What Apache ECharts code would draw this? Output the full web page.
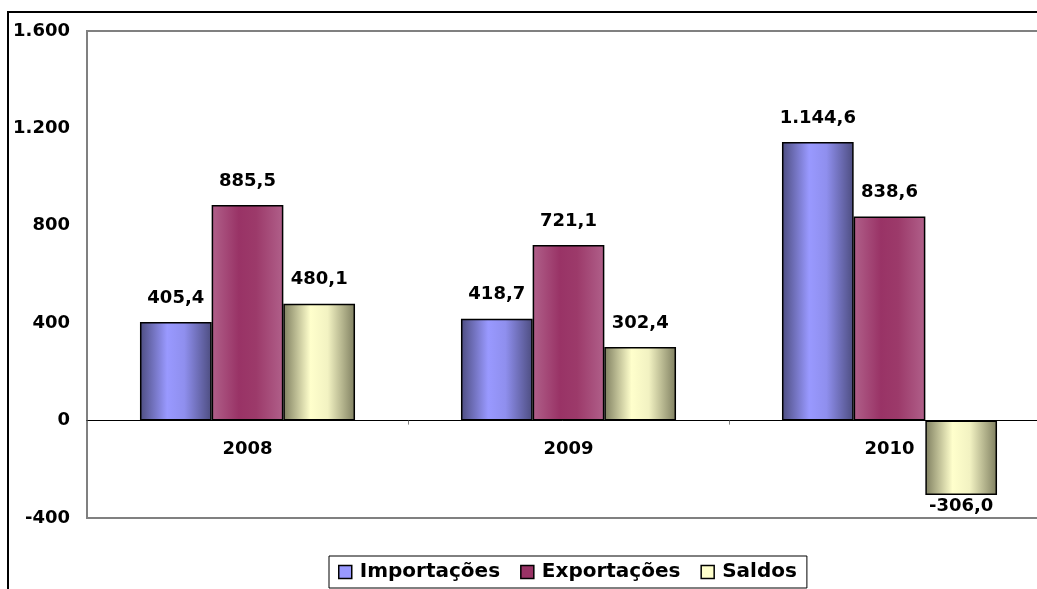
<!DOCTYPE html>
<html>
<head>
<meta charset="utf-8">
<script src="https://cdn.jsdelivr.net/npm/echarts@6/dist/echarts.min.js"></script>
<style>
  html, body { margin: 0; padding: 0; background: #fff; }
  #chart { width: 1037px; height: 589px; }
</style>
</head>
<body>
<div id="chart"></div>
<script>
var years = ['2008', '2009', '2010'];
var importacoes = [405.4, 418.7, 1144.6];
var exportacoes = [885.5, 721.1, 838.6];
var saldos = [480.1, 302.4, -306.0];
var yTicks = [-400, 0, 400, 800, 1200, 1600];

var font = '"DejaVu Sans", Arial, sans-serif';
var gridTop = 31, gridBottom = 71, chartH = 589;
var plotH = chartH - gridTop - gridBottom;
var yMin = yTicks[0], yMax = yTicks[yTicks.length - 1];
// move the category axis up to the zero line
var zeroOffset = -plotH * (0 - yMin) / (yMax - yMin);

// 1144.6 -> "1.144,6"
function fmt(v, dec) {
    var s = Math.abs(v).toFixed(dec);
    var parts = s.split('.');
    var intPart = parts[0].replace(/\B(?=(\d{3})+(?!\d))/g, '.');
    var out = (v < 0 ? '-' : '') + intPart;
    if (dec > 0) out += ',' + parts[1];
    return out;
}

function grad(c0, c1, c2, c3) {
    return new echarts.graphic.LinearGradient(0, 0, 1, 0, [
        { offset: 0, color: c0 },
        { offset: 0.38, color: c1 },
        { offset: 0.62, color: c2 },
        { offset: 1, color: c3 }
    ]);
}

var labelStyle = {
    show: true,
    position: 'top',
    distance: 15,
    fontFamily: font,
    fontWeight: 'bold',
    fontSize: 18,
    color: '#000',
    formatter: function (p) { return fmt(p.value, 1); }
};

function makeSeries(name, values, color) {
    return {
        name: name,
        type: 'bar',
        barGap: 0,
        barCategoryGap: '33%',
        itemStyle: { color: color, borderColor: '#000', borderWidth: 1.5 },
        label: labelStyle,
        data: values.map(function (v) {
            if (v < 0) {
                return { value: v, label: { position: 'bottom', distance: 2 } };
            }
            return v;
        })
    };
}

var chart = echarts.init(document.getElementById('chart'));
var option = {
    backgroundColor: '#fff',
    animation: false,
    graphic: [{
        type: 'rect',
        shape: { x: 8, y: 12, width: 1200, height: 800 },
        style: { fill: 'none', stroke: '#000', lineWidth: 2 },
        silent: true,
        z: 100
    }],
    grid: {
        left: 87, width: 963, top: gridTop, bottom: gridBottom,
        outerBoundsMode: 'none',
        show: true, borderColor: '#808080', borderWidth: 2
    },
    legend: {
        bottom: 1,
        left: 329,
        icon: 'rect',
        padding: [6, 10, 6, 9],
        borderColor: '#000',
        borderWidth: 1,
        itemWidth: 13,
        itemHeight: 13,
        itemGap: 20,
        textStyle: { fontFamily: font, fontWeight: 'bold', fontSize: 20, color: '#000', padding: [0, 0, 0, 3] },
        data: [
            { name: 'Importações', itemStyle: { color: '#9999ff', borderColor: '#000', borderWidth: 1.5 } },
            { name: 'Exportações', itemStyle: { color: '#993366', borderColor: '#000', borderWidth: 1.5 } },
            { name: 'Saldos', itemStyle: { color: '#ffffcc', borderColor: '#000', borderWidth: 1.5 } }
        ]
    },
    xAxis: {
        type: 'category',
        data: years,
        offset: zeroOffset,
        axisLine: { onZero: false, lineStyle: { color: '#000', width: 1 } },
        axisTick: { show: true, length: 4, lineStyle: { color: '#808080' } },
        axisLabel: { margin: 20, fontFamily: font, fontWeight: 'bold', fontSize: 18, color: '#000' }
    },
    yAxis: {
        type: 'value',
        min: yMin,
        max: yMax,
        interval: 400,
        axisLine: { show: false },
        axisTick: { show: false },
        splitLine: { show: false },
        axisLabel: {
            margin: 17,
            fontFamily: font, fontWeight: 'bold', fontSize: 18, color: '#000',
            formatter: function (v) { return fmt(v, 0); }
        }
    },
    series: [
        makeSeries('Importações', importacoes, grad('#4d4d80', '#9999ff', '#8f8fee', '#4d4d80')),
        makeSeries('Exportações', exportacoes, grad('#b0608a', '#993366', '#9c3a6a', '#b0608a')),
        makeSeries('Saldos', saldos, grad('#7f7f60', '#ffffcc', '#f2f2c2', '#7f7f60'))
    ]
};
chart.setOption(option);
</script>
</body>
</html>
